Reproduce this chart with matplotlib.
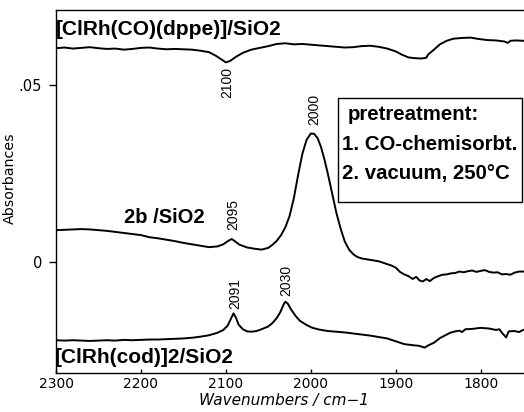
import matplotlib
matplotlib.use("Agg")
import matplotlib.pyplot as plt
from matplotlib.patches import Rectangle
from matplotlib.ticker import FixedLocator, FixedFormatter

# ---- data ----
w_dppe = [2300, 2290, 2280, 2270, 2260, 2250, 2240, 2230, 2220, 2210, 2200, 2190, 2180, 2170,
          2160, 2150, 2140, 2130, 2120, 2112, 2105, 2100, 2095, 2088, 2080, 2070, 2060, 2050,
          2040, 2030, 2020, 2010, 2000, 1990, 1980, 1970, 1960, 1950, 1940, 1930, 1920, 1910,
          1900, 1893, 1885, 1878, 1870, 1864, 1862, 1855, 1848, 1840, 1832, 1822, 1812, 1802,
          1792, 1782, 1772, 1768, 1765, 1758, 1750]
a_dppe = [0.0604, 0.0606, 0.0603, 0.0605, 0.0607, 0.0604, 0.0602, 0.0603, 0.0600, 0.0602,
          0.0605, 0.0606, 0.0603, 0.0601, 0.0602, 0.0601, 0.0600, 0.0597, 0.0593, 0.0583,
          0.0572, 0.0564, 0.0568, 0.0580, 0.0591, 0.0600, 0.0605, 0.0610, 0.0616, 0.0618,
          0.0615, 0.0616, 0.0614, 0.0612, 0.0610, 0.0608, 0.0606, 0.0607, 0.0610, 0.0611,
          0.0608, 0.0603, 0.0595, 0.0586, 0.0578, 0.0576, 0.0575, 0.0577, 0.0586, 0.0600,
          0.0615, 0.0625, 0.0631, 0.0633, 0.0634, 0.0630, 0.0627, 0.0626, 0.0623, 0.0619,
          0.0625, 0.0626, 0.0625]

w_2b = [2300, 2290, 2280, 2270, 2260, 2250, 2240, 2230, 2220, 2210, 2200, 2190, 2180, 2170,
        2160, 2150, 2140, 2130, 2120, 2110, 2103, 2097, 2093, 2089, 2084, 2075, 2065, 2058,
        2050, 2045, 2040, 2035, 2030, 2025, 2020, 2015, 2010, 2005, 2000, 1996, 1992, 1988,
        1984, 1980, 1975, 1970, 1965, 1960, 1955, 1950, 1945, 1940, 1935, 1930, 1925, 1920,
        1915, 1910, 1905, 1900, 1895, 1890, 1885, 1880, 1876, 1872, 1868, 1864, 1860, 1855,
        1850, 1845, 1840, 1835, 1830, 1825, 1820, 1815, 1810, 1805, 1800, 1795, 1790, 1785,
        1780, 1775, 1770, 1765, 1760, 1755, 1750]
a_2b = [0.0090, 0.0091, 0.0092, 0.0093, 0.0092, 0.0090, 0.0088, 0.0085, 0.0082, 0.0079,
        0.0076, 0.0070, 0.0067, 0.0063, 0.0059, 0.0054, 0.0050, 0.0046, 0.0042, 0.0044,
        0.0050, 0.0060, 0.0065, 0.0058, 0.0049, 0.0041, 0.0037, 0.0035, 0.0040, 0.0049,
        0.0060, 0.0076, 0.0098, 0.0130, 0.0180, 0.0245, 0.0305, 0.0345, 0.0363, 0.0362,
        0.0350, 0.0325, 0.0290, 0.0250, 0.0195, 0.0140, 0.0095, 0.0058, 0.0035, 0.0022,
        0.0014, 0.0010, 0.0008, 0.0006, 0.0004, 0.0002, -0.0002, -0.0006, -0.0010, -0.0016,
        -0.0028, -0.0035, -0.0040, -0.0048, -0.0042, -0.0052, -0.0055, -0.0048, -0.0054,
        -0.0045, -0.0040, -0.0036, -0.0035, -0.0032, -0.0031, -0.0027, -0.0029, -0.0026,
        -0.0024, -0.0028, -0.0025, -0.0023, -0.0028, -0.0030, -0.0029, -0.0035, -0.0034,
        -0.0036, -0.0030, -0.0027, -0.0027]

w_cod = [2300, 2290, 2280, 2270, 2260, 2250, 2240, 2230, 2220, 2210, 2200, 2190, 2180, 2170,
         2160, 2150, 2140, 2130, 2120, 2110, 2103, 2098, 2094, 2091, 2088, 2085, 2080, 2075,
         2070, 2064, 2058, 2050, 2045, 2040, 2036, 2032, 2030, 2027, 2023, 2018, 2013, 2005,
         1998, 1990, 1980, 1970, 1960, 1950, 1940, 1930, 1920, 1910, 1900, 1890, 1880, 1872,
         1866, 1862, 1855, 1848, 1840, 1836, 1830, 1825, 1822, 1818, 1810, 1800, 1790, 1782,
         1778, 1775, 1770, 1767, 1760, 1755, 1750]
a_cod = [-0.0221, -0.0222, -0.0221, -0.0222, -0.0223, -0.0222, -0.0221, -0.0222, -0.0220,
         -0.0221, -0.0220, -0.0219, -0.0219, -0.0218, -0.0217, -0.0216, -0.0214, -0.0211,
         -0.0207, -0.0200, -0.0192, -0.0180, -0.0160, -0.0145, -0.0158, -0.0177, -0.0190,
         -0.0196, -0.0197, -0.0195, -0.0190, -0.0182, -0.0172, -0.0158, -0.0142, -0.0120,
         -0.0112, -0.0118, -0.0135, -0.0152, -0.0166, -0.0178, -0.0186, -0.0191, -0.0195,
         -0.0197, -0.0199, -0.0202, -0.0205, -0.0208, -0.0212, -0.0216, -0.0224, -0.0232,
         -0.0235, -0.0237, -0.0242, -0.0236, -0.0228, -0.0215, -0.0205, -0.0200, -0.0196,
         -0.0194, -0.0198, -0.0190, -0.0189, -0.0186, -0.0188, -0.0192, -0.0190, -0.0200,
         -0.0213, -0.0196, -0.0195, -0.0198, -0.0192]

x_ticks = [2300, 2200, 2100, 2000, 1900, 1800]
x_ticklabels = ["2300", "2200", "2100", "2000", "1900", "1800"]
y_ticks = [0.0, 0.05]
y_ticklabels = ["0", ".05"]

series_labels = ["[ClRh(CO)(dppe)]/SiO2", "2b /SiO2", "[ClRh(cod)]2/SiO2"]
peak_labels = ["2100", "2095", "2000", "2091", "2030"]
peak_pos = [(2098, 0.0508), (2091, 0.0133), (1996.5, 0.0432), (2089, -0.0089), (2029, -0.0051)]
box_lines = ["pretreatment:", "1. CO-chemisorbt.", "2. vacuum, 250°C"]

# ---- figure ----
W, H = 524, 412
fig = plt.figure(figsize=(W / 100, H / 100), dpi=100)
ax = fig.add_axes([56 / W, (H - 373) / H, (W - 56) / W, 363 / H])

for wv, ab in [(w_dppe, a_dppe), (w_2b, a_2b), (w_cod, a_cod)]:
    ax.plot(wv, ab, color="black", lw=1.4, solid_joinstyle="round")

ax.set_xlim(2300, 1749)
ax.set_ylim(-0.03136, 0.0712)

ax.spines["right"].set_visible(False)
for s in ["left", "bottom", "top"]:
    ax.spines[s].set_linewidth(1.0)

ax.xaxis.set_major_locator(FixedLocator(x_ticks))
ax.xaxis.set_major_formatter(FixedFormatter(x_ticklabels))
ax.yaxis.set_major_locator(FixedLocator(y_ticks))
ax.yaxis.set_major_formatter(FixedFormatter(y_ticklabels))
ax.tick_params(axis="x", direction="in", length=3, width=1, pad=3, labelsize=10)
ax.tick_params(axis="y", direction="out", length=5, width=1, pad=5, labelsize=10.5)
for lab in ax.get_xticklabels() + ax.get_yticklabels():
    lab.set_family("DejaVu Sans")

ax.set_xlabel("Wavenumbers / cm−1", fontsize=11, style="oblique")
ax.xaxis.set_label_coords((284 - 56) / 468, -(400 - 373) / 363)
ax.xaxis.label.set_va("center")
ax.set_ylabel("Absorbances", fontsize=10.3)
ax.yaxis.set_label_coords(-39 / 468, (373 - 178) / 363)

bold = dict(family="Liberation Sans", weight="bold", color="black")
FS = 15
ax.text(2300.5, 0.0658, series_labels[0], fontsize=FS, ha="left", va="center", **bold)
ax.text(2173, 0.01257, series_labels[1], fontsize=14.5, ha="center", va="center", **bold)
ax.text(2301, -0.0270, series_labels[2], fontsize=FS, ha="left", va="center", **bold)

for lab, (px, py) in zip(peak_labels, peak_pos):
    ax.text(px, py, lab, rotation=90, fontsize=10, family="Liberation Sans",
            ha="center", va="center")

bx0 = (338 - 56) / 468
bx1 = (522 - 56) / 468
by0 = (373 - 202) / 363
by1 = (373 - 97.7) / 363
ax.add_patch(Rectangle((bx0, by0), bx1 - bx0, by1 - by0, transform=ax.transAxes,
                       fill=True, facecolor="white", edgecolor="black", lw=1.0, zorder=3))
ax.text((348 - 56) / 468, (373 - 115) / 363, box_lines[0], transform=ax.transAxes,
        fontsize=14.7, ha="left", va="center", zorder=4, **bold)
ax.text((342 - 56) / 468, (373 - 145) / 363, box_lines[1], transform=ax.transAxes,
        fontsize=14.7, ha="left", va="center", zorder=4, **bold)
ax.text((342 - 56) / 468, (373 - 174) / 363, box_lines[2], transform=ax.transAxes,
        fontsize=14.7, ha="left", va="center", zorder=4, **bold)

fig.savefig("out.png", dpi=100)
